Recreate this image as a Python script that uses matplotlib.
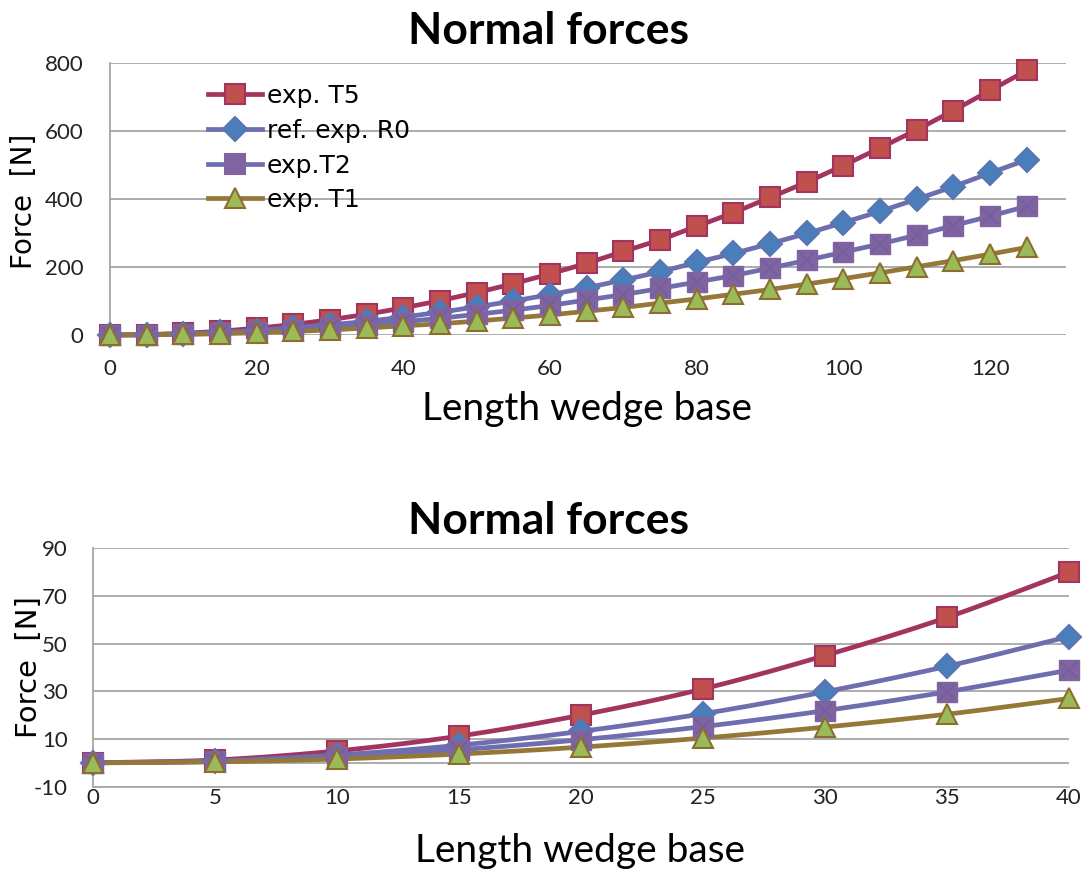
import numpy as np
import matplotlib
matplotlib.use("Agg")
import matplotlib.pyplot as plt
from matplotlib.lines import Line2D

# ---- data -------------------------------------------------------------
length_full = [0, 5, 10, 15, 20, 25, 30, 35, 40, 45, 50, 55, 60, 65, 70,
               75, 80, 85, 90, 95, 100, 105, 110, 115, 120, 125]
t5_full = [0, 1.2, 5, 11, 20, 31, 45, 61, 80, 101, 125, 151, 180, 211, 246,
           280, 320, 360, 405, 450, 499, 551, 604, 661, 720, 779]
r0_full = [0, 0.8, 3.3, 7.4, 13, 21, 30, 40, 53, 67, 83, 100, 119, 139, 162,
           186, 214, 240, 269, 299, 331, 364, 400, 437, 477, 516]
t2_full = [0, 0.6, 2.4, 5.5, 9.7, 15.2, 22, 30, 39, 49, 61, 73, 87, 103, 119,
           137, 156, 175, 197, 220, 244, 268, 294, 322, 350, 379]
t1_full = [0, 0.4, 1.6, 3.7, 6.6, 10.5, 15, 20.5, 27, 33, 41, 50, 59, 70, 81,
           94, 106, 120, 134, 150, 166, 183, 201, 219, 238, 258]

length_zoom = [0, 5, 10, 15, 20, 25, 30, 35, 40]
t5_zoom = [0, 1.2, 5, 11.2, 20, 31, 45, 61, 80]
r0_zoom = [0, 0.8, 3.3, 7.4, 13.2, 20.6, 29.8, 40.5, 53]
t2_zoom = [0, 0.6, 2.4, 5.5, 9.7, 15.2, 21.9, 29.8, 38.9]
t1_zoom = [0, 0.4, 1.6, 3.7, 6.6, 10.4, 15, 20.4, 27]

labels = ["exp. T5", "ref. exp. R0", "exp.T2", "exp. T1"]
title = "Normal forces"
xlabel = "Length wedge base"
ylabel = "Force  [N]"

# ---- styles -----------------------------------------------------------
styles = [
    dict(color="#A3345F", marker="s", mfc="#C0504D", mec="#A3345F", ms=14),
    dict(color="#6E6DAF", marker="D", mfc="#4A7EBB", mec="#5B75B0", ms=12),
    dict(color="#6E6DAF", marker="sx", mfc="#8064A2", mec="#8064A2", ms=14),
    dict(color="#957838", marker="^", mfc="#9BBB59", mec="#8C6E30", ms=15),
]

FONT = "Lato"
GRID = "#A6A6A6"
plt.rcParams["font.family"] = [FONT, "DejaVu Sans"]
plt.rcParams["axes.unicode_minus"] = False

W, H = 1089, 872
fig = plt.figure(figsize=(W / 100, H / 100), dpi=100)


def fx(px):
    return px / W


def fy(py):
    return 1 - py / H


def smooth(x, y, n=24):
    """Catmull-Rom curve through the points, for Excel-like smoothed lines."""
    x = np.asarray(x, float)
    y = np.asarray(y, float)
    px = np.concatenate([[2 * x[0] - x[1]], x, [2 * x[-1] - x[-2]]])
    py = np.concatenate([[2 * y[0] - y[1]], y, [2 * y[-1] - y[-2]]])
    t = np.linspace(0, 1, n)
    xs, ys = [], []
    for i in range(1, len(px) - 2):
        for arr, out in ((px, xs), (py, ys)):
            p0, p1, p2, p3 = arr[i - 1], arr[i], arr[i + 1], arr[i + 2]
            out.append(0.5 * ((2 * p1) + (-p0 + p2) * t
                              + (2 * p0 - 5 * p1 + 4 * p2 - p3) * t ** 2
                              + (-p0 + 3 * p1 - 3 * p2 + p3) * t ** 3))
    return np.concatenate(xs), np.concatenate(ys)


def draw_series(ax, x, series, smoothed):
    for y, st in zip(series, styles):
        if smoothed:
            sx, sy = smooth(x, y)
            ax.plot(sx, sy, color=st["color"], lw=3.4, solid_capstyle="round",
                    zorder=3, clip_on=False)
        else:
            ax.plot(x, y, color=st["color"], lw=3.4, zorder=3, clip_on=False)
        if st["marker"] == "sx":
            ax.plot(x, y, ls="none", marker="s", ms=st["ms"], mfc=st["mfc"],
                    mec=st["mfc"], mew=1, zorder=4, clip_on=False)
            ax.plot(x, y, ls="none", marker="x", ms=st["ms"] - 3,
                    mec="#6A5C9E", mew=1.2, alpha=0.7, zorder=4, clip_on=False)
        else:
            ax.plot(x, y, ls="none", marker=st["marker"], ms=st["ms"],
                    mfc=st["mfc"], mec=st["mec"], mew=1.5, zorder=4,
                    clip_on=False)


def style_axes(ax):
    for side in ("top", "right"):
        ax.spines[side].set_visible(False)
    for side in ("left", "bottom"):
        ax.spines[side].set_color(GRID)
        ax.spines[side].set_linewidth(1.3)
    ax.grid(axis="y", color=GRID, lw=1.3)
    ax.set_axisbelow(True)
    ax.tick_params(length=0, labelsize=16, colors="#222222")


# ---- top chart --------------------------------------------------------
ax1 = fig.add_axes([fx(110), fy(335), fx(1065.7 - 110), (335 - 63.3) / H])
draw_series(ax1, length_full, [t5_full, r0_full, t2_full, t1_full], False)
ax1.set_xlim(0, 130.3)
ax1.set_ylim(0, 800)
ax1.set_yticks([0, 200, 400, 600, 800])
ax1.set_xticks([0, 20, 40, 60, 80, 100, 120])
style_axes(ax1)
ax1.spines["bottom"].set_visible(False)
ax1.tick_params(axis="y", pad=19)
ax1.tick_params(axis="x", pad=17)
fig.text(fx(549), fy(44), title, fontsize=32, fontweight="bold",
         ha="center", va="baseline")
ax1.set_xlabel(xlabel, fontsize=28)
ax1.xaxis.set_label_coords(fx(587), fy(420), transform=fig.transFigure)
ax1.xaxis.label.set_va("baseline")
ax1.set_ylabel(ylabel, fontsize=20, family="DejaVu Sans")
ax1.yaxis.set_label_coords(fx(24), fy(201), transform=fig.transFigure)
ax1.yaxis.label.set_va("center")

handles = []
for st in styles:
    mk = "s" if st["marker"] == "sx" else st["marker"]
    handles.append(Line2D([], [], color=st["color"], lw=3.4, marker=mk,
                          ms=st["ms"], mfc=st["mfc"], mec=st["mec"], mew=1.5))
ax1.legend(handles, labels, loc="upper left",
           bbox_to_anchor=(fx(208), fy(84)), bbox_transform=fig.transFigure,
           frameon=False, handlelength=2.15, handletextpad=0.2,
           labelspacing=0.43, borderpad=0, borderaxespad=0,
           prop=dict(family="DejaVu Sans", size=18))

# ---- bottom chart -----------------------------------------------------
ax2 = fig.add_axes([fx(92.7), fy(786.7), fx(1069 - 92.7), (786.7 - 548.3) / H])
draw_series(ax2, length_zoom, [t5_zoom, r0_zoom, t2_zoom, t1_zoom], True)
ax2.set_xlim(0, 40)
ax2.set_ylim(-10, 90)
ax2.set_yticks([-10, 10, 30, 50, 70, 90])
ax2.set_xticks(length_zoom)
ax2.axhline(0, color=GRID, lw=1.3, zorder=1)
style_axes(ax2)
ax2.tick_params(axis="y", pad=18)
ax2.tick_params(axis="x", pad=1)
fig.text(fx(549), fy(534), title, fontsize=32, fontweight="bold",
         ha="center", va="baseline")
ax2.set_xlabel(xlabel, fontsize=28)
ax2.xaxis.set_label_coords(fx(580), fy(862), transform=fig.transFigure)
ax2.xaxis.label.set_va("baseline")
ax2.set_ylabel(ylabel, fontsize=21, family="DejaVu Sans")
ax2.yaxis.set_label_coords(fx(29), fy(667), transform=fig.transFigure)
ax2.yaxis.label.set_va("center")

fig.savefig("out.png", dpi=100, facecolor="white")
